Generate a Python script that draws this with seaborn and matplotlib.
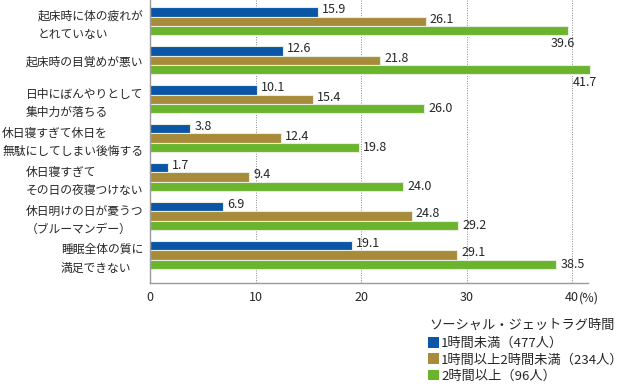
import pandas as pd
import seaborn as sns
import matplotlib.pyplot as plt
from matplotlib.patches import Patch

# データ（図から読み取った値, %）
categories = [
    "起床時に体の疲れが\nとれていない",
    "起床時の目覚めが悪い",
    "日中にぼんやりとして\n集中力が落ちる",
    "休日寝すぎて休日を\n無駄にしてしまい後悔する",
    "休日寝すぎて\nその日の夜寝つけない",
    "休日明けの日が憂うつ\n（ブルーマンデー）",
    "睡眠全体の質に\n満足できない",
]
groups = ["1時間未満（477人）", "1時間以上2時間未満（234人）", "2時間以上（96人）"]
under_1h = [15.9, 12.6, 10.1, 3.8, 1.7, 6.9, 19.1]
from_1h_to_2h = [26.1, 21.8, 15.4, 12.4, 9.4, 24.8, 29.1]
over_2h = [39.6, 41.7, 26.0, 19.8, 24.0, 29.2, 38.5]
xticks = [0, 10, 20, 30, 40]
legend_title = "ソーシャル・ジェットラグ時間"

colors = ["#0a55a6", "#a88b3a", "#6bb42e"]

sns.set_theme(style="white")
plt.rcParams['font.family'] = ['Noto Sans CJK JP', 'DejaVu Sans']

rows = []
for vals, g in zip([under_1h, from_1h_to_2h, over_2h], groups):
    for c, v in zip(categories, vals):
        rows.append({"cat": c, "group": g, "value": v})
df = pd.DataFrame(rows)

fig = plt.figure(figsize=(6.28, 3.86), dpi=100)
ax = fig.add_axes([0.2389, 0.267, 0.6975, 0.733])

sns.barplot(data=df, y="cat", x="value", hue="group", order=categories,
            hue_order=groups, palette=colors, orient="h", width=0.72,
            edgecolor="#e6eddc", linewidth=0.8, saturation=1, legend=False, ax=ax)

ax.set_xlim(0, 41.5)
ax.set_ylim(6.72, -0.55)
ax.set_xlabel("")
ax.set_ylabel("")
ax.set_xticks(xticks)
ax.set_xticklabels([str(t) for t in xticks], fontsize=9)
ax.annotate("(%)", xy=(40, 0), xycoords=("data", "axes fraction"), xytext=(5, -6),
            textcoords="offset points", ha="left", va="top", fontsize=9,
            annotation_clip=False)
ax.tick_params(axis="x", direction="in", length=3, color="#999999", pad=6)
ax.tick_params(axis="y", length=0, pad=5)
for lab in ax.get_yticklabels():
    lab.set_fontsize(8.5)
    lab.set_multialignment("left")
    lab.set_linespacing(1.5)

for s in ["top", "right"]:
    ax.spines[s].set_visible(False)
for s in ["left", "bottom"]:
    ax.spines[s].set_color("#9a9a9a")
    ax.spines[s].set_linewidth(1.0)

for x in xticks[1:]:
    ax.axvline(x, color="#888888", linestyle=(0, (1, 1.5)), linewidth=0.7, zorder=0)

# 数値ラベル
for i, cont in enumerate(ax.containers):
    for p in cont:
        p.set_clip_on(False)
        v = p.get_width()
        yc = p.get_y() + p.get_height() / 2
        if v > 39:
            ax.annotate(f"{v:.1f}", xy=(v, p.get_y() + p.get_height()), xytext=(-4, -1),
                        textcoords="offset points", ha="center", va="top", fontsize=9,
                        annotation_clip=False)
        else:
            dy = 1.5 if i < 2 else 0
            ax.annotate(f"{v:.1f}", xy=(v, yc), xytext=(3, dy),
                        textcoords="offset points", ha="left", va="center", fontsize=9)

fig.text(429 / 628, 1 - 325 / 386, legend_title, ha="left", va="center", fontsize=9.5)
handles = [Patch(facecolor=c, edgecolor="none") for c in colors]
fig.legend(handles, groups, loc="upper left",
           bbox_to_anchor=(428 / 628, 1 - 337 / 386), frameon=False, fontsize=9.5,
           handlelength=0.85, handleheight=0.85,
           handletextpad=0.15, labelspacing=0.25, borderpad=0, borderaxespad=0)

plt.savefig("out.png", dpi=100, facecolor="white")
